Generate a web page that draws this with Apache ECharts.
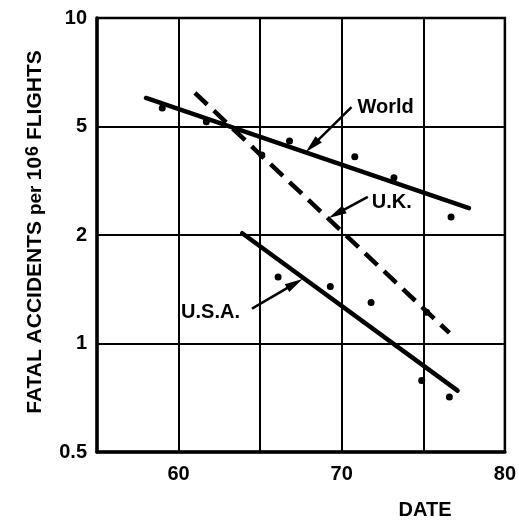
<!DOCTYPE html>
<html>
<head>
<meta charset="utf-8">
<script src="https://cdn.jsdelivr.net/npm/echarts@6/dist/echarts.min.js"></script>
<style>
  html, body { margin: 0; padding: 0; background: #fff; }
  #chart { width: 519px; height: 526px; }
</style>
</head>
<body>
<div id="chart"></div>
<script>
// Accident-rate scale: 1-2-5 steps, equally spaced on the axis
const rateTicks = [0.5, 1, 2, 5, 10];
const rateTickLabels = ['0.5', '1', '2', '5', '10'];

// Years shown on the date axis
const yearLabels = [60, 70, 80];

// Fitted trends: [year, fatal accidents per 10^6 flights]
const worldTrend = [[58.0, 6.0], [77.8, 2.51]];
const ukTrend = [[61.0, 6.2], [76.6, 1.07]];
const usaTrend = [[63.9, 2.03], [77.1, 0.74]];

// Observed rates
const worldPoints = [[59.0, 5.63], [61.7, 5.15], [66.8, 4.42], [70.8, 3.87], [73.2, 3.24], [76.7, 2.33]];
const ukPoints = [[65.1, 3.93], [75.2, 1.22]];
const usaPoints = [[66.1, 1.53], [69.3, 1.44], [71.8, 1.30], [74.9, 0.79], [76.6, 0.71]];

// Callouts: label, arrow tail and arrow tip as [year, rate]
const calloutLabels = ['World', 'U.K.', 'U.S.A.'];
const calloutTails = [[70.6, 5.66], [71.6, 2.76], [64.5, 1.25]];
const calloutTips = [[67.8, 4.03], [69.2, 2.31], [67.6, 1.51]];

// Where each callout label sits relative to its arrow tail (px) and its alignment
const calloutPlacement = [[6, 0, 'left'], [4, 6, 'left'], [-12, 4, 'right']];

// Position of a rate on the 1-2-5 axis (log-interpolated between neighbouring ticks)
function ratePos(v) {
  const n = rateTicks.length;
  for (let i = 0; i < n - 1; i++) {
    const a = rateTicks[i], b = rateTicks[i + 1];
    if (v <= b || i === n - 2) return i + Math.log(v / a) / Math.log(b / a);
  }
}
const toXY = (arr) => arr.map(([yr, r]) => [yr, ratePos(r)]);

const FONT = '"Liberation Sans", Arial, sans-serif';
const chart = echarts.init(document.getElementById('chart'), null, { renderer: 'canvas' });

const lineBase = { type: 'line', symbol: 'none', silent: true, z: 3 };

chart.setOption({
  animation: false,
  backgroundColor: '#fff',
  grid: { left: 97, top: 18, right: 12, bottom: 74, show: true, borderColor: '#000', borderWidth: 2.5, backgroundColor: 'transparent' },
  xAxis: {
    type: 'value', min: 55, max: 80, interval: 5,
    axisLine: { show: true, lineStyle: { color: '#000', width: 3.5 } },
    axisTick: { show: false },
    splitLine: { show: true, lineStyle: { color: '#000', width: 2 } },
    axisLabel: {
      margin: 12, color: '#000', fontFamily: FONT, fontWeight: 'bold', fontSize: 20,
      formatter: (v) => yearLabels.includes(v) ? String(v) : ''
    }
  },
  yAxis: {
    type: 'value', min: 0, max: rateTicks.length - 1, interval: 1,
    axisLine: { show: true, lineStyle: { color: '#000', width: 3.5 } },
    axisTick: { show: false },
    splitLine: { show: true, lineStyle: { color: '#000', width: 2 } },
    axisLabel: {
      margin: 10, color: '#000', fontFamily: FONT, fontWeight: 'bold', fontSize: 20,
      formatter: (v) => rateTickLabels[Math.round(v)]
    }
  },
  graphic: [
    {
      type: 'text', x: 35, y: 232, rotation: Math.PI / 2,
      style: {
        text: '{a|FATAL ACCIDENTS }{b|per }{a|10}{s|6}{a| FLIGHTS}',
        align: 'center', verticalAlign: 'middle', fill: '#000',
        rich: {
          a: { fontFamily: FONT, fontWeight: 'bold', fontSize: 21, lineHeight: 21, verticalAlign: 'bottom', fill: '#000' },
          b: { fontFamily: FONT, fontWeight: 'bold', fontSize: 19, lineHeight: 21, verticalAlign: 'bottom', fill: '#000' },
          s: { fontFamily: FONT, fontWeight: 'bold', fontSize: 18, lineHeight: 18, padding: [0, 0, 18, 1], verticalAlign: 'top', fill: '#000' }
        }
      }
    },
    {
      type: 'text', x: 425, y: 510,
      style: { text: 'DATE', align: 'center', verticalAlign: 'middle', font: 'bold 20px ' + FONT, fill: '#000' }
    }
  ],
  series: [
    Object.assign({}, lineBase, { name: 'World', data: toXY(worldTrend), lineStyle: { color: '#000', width: 4.5, cap: 'round' } }),
    Object.assign({}, lineBase, { name: 'U.K.', data: toXY(ukTrend), lineStyle: { color: '#000', width: 4.5, type: [17, 9] } }),
    Object.assign({}, lineBase, { name: 'U.S.A.', data: toXY(usaTrend), lineStyle: { color: '#000', width: 4.5, cap: 'round' } }),
    {
      type: 'scatter', silent: true, z: 4, symbol: 'circle', symbolSize: 7,
      itemStyle: { color: '#000', opacity: 1 },
      data: toXY(worldPoints).concat(toXY(ukPoints), toXY(usaPoints))
    },
    {
      type: 'custom', silent: true, z: 5, clip: false,
      encode: { x: [0, 2], y: [1, 3] },
      data: calloutTails.map((t, i) => [t[0], ratePos(t[1]), calloutTips[i][0], ratePos(calloutTips[i][1])]),
      renderItem: (params, api) => {
        const t = api.coord([api.value(0), api.value(1)]);
        const h = api.coord([api.value(2), api.value(3)]);
        const dx = h[0] - t[0], dy = h[1] - t[1];
        const len = Math.hypot(dx, dy);
        const ux = dx / len, uy = dy / len;
        const headLen = 18, headW = 4.5;
        const bx = h[0] - ux * headLen, by = h[1] - uy * headLen;
        const px = -uy, py = ux;
        const p = calloutPlacement[params.dataIndex];
        return {
          type: 'group',
          children: [
            { type: 'line', shape: { x1: t[0], y1: t[1], x2: bx + ux * 3, y2: by + uy * 3 }, style: { stroke: '#000', lineWidth: 2.5 } },
            { type: 'polygon', shape: { points: [[h[0], h[1]], [bx + px * headW, by + py * headW], [bx - px * headW, by - py * headW]] }, style: { fill: '#000' } },
            { type: 'text', x: t[0] + p[0], y: t[1] + p[1], style: { text: calloutLabels[params.dataIndex], align: p[2], verticalAlign: 'middle', font: 'bold 20px ' + FONT, fill: '#000' } }
          ]
        };
      }
    }
  ]
});
</script>
</body>
</html>
